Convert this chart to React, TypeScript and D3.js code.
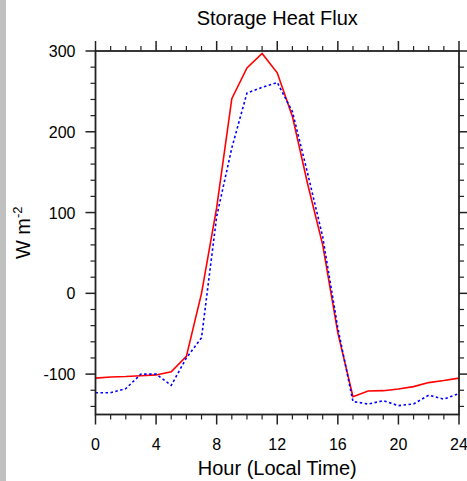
import React from "react";
import * as d3 from "d3";

const hours = d3.range(0, 25);
const observed = [-105, -103.5, -103, -102, -101, -97, -78, 0, 106, 241, 279, 297, 273, 219, 136, 60, -49, -128, -121, -120.5, -118.5, -115.5, -110.5, -108, -105];
const modeled = [-123, -123, -118, -100, -100, -114, -80, -55, 95, 180, 248, 255, 261, 225, 149, 70, -43, -134, -137, -133, -139, -137, -126, -131, -124];
const xMajorTicks = [0, 4, 8, 12, 16, 20, 24];
const yMajorTicks = [-100, 0, 100, 200, 300];

const W = 467;
const H = 481;
const left = 95.5;
const right = 459;
const top = 51;
const bottom = 414.5;

export default function App() {
  const x = d3.scaleLinear().domain([0, 24]).range([left, right]);
  const y = d3.scaleLinear().domain([-150, 300]).range([bottom, top]);
  const line = d3
    .line<number>()
    .x((_, i) => x(hours[i]))
    .y((d) => y(d));
  const xMinor = d3.range(0, 25, 1).filter((v) => v % 4 !== 0);
  const yMinor = d3.range(-140, 301, 20).filter((v) => v % 100 !== 0);
  const font = "'Liberation Sans', Arial, Helvetica, sans-serif";
  const axisColor = "#222";

  return (
    <svg
      width={W}
      height={H}
      style={{ position: "absolute", left: 0, top: 0, background: "#fff" }}
      fontFamily={font}
    >
      <rect x={0} y={0} width={W} height={H} fill="#fff" />
      <rect x={0} y={0} width={6} height={H} fill="#c0c0c0" />

      {/* data lines */}
      <path d={line(observed) || ""} fill="none" stroke="#ff0000" strokeWidth={1.6} />
      <path
        d={line(modeled) || ""}
        fill="none"
        stroke="#0000ff"
        strokeWidth={1.6}
        strokeDasharray="2.5,2.5"
      />

      {/* frame */}
      <rect
        x={left}
        y={top}
        width={right - left}
        height={bottom - top}
        fill="none"
        stroke={axisColor}
        strokeWidth={1.8}
      />

      {/* x ticks */}
      {xMajorTicks.map((t) => (
        <g key={"xm" + t}>
          <line x1={x(t)} x2={x(t)} y1={bottom} y2={bottom + 10} stroke={axisColor} strokeWidth={1.5} />
          <line x1={x(t)} x2={x(t)} y1={top} y2={top - 10} stroke={axisColor} strokeWidth={1.5} />
          <text x={x(t)} y={bottom + 35} textAnchor="middle" fontSize={16} fill="#000">
            {t}
          </text>
        </g>
      ))}
      {xMinor.map((t) => (
        <g key={"xn" + t}>
          <line x1={x(t)} x2={x(t)} y1={bottom} y2={bottom + 5} stroke={axisColor} strokeWidth={1.2} />
          <line x1={x(t)} x2={x(t)} y1={top} y2={top - 5} stroke={axisColor} strokeWidth={1.2} />
        </g>
      ))}

      {/* y ticks */}
      {yMajorTicks.map((t) => (
        <g key={"ym" + t}>
          <line x1={left} x2={left - 10} y1={y(t)} y2={y(t)} stroke={axisColor} strokeWidth={1.5} />
          <line x1={right} x2={right + 8} y1={y(t)} y2={y(t)} stroke={axisColor} strokeWidth={1.5} />
          <text x={left - 20} y={y(t) + 6} textAnchor="end" fontSize={16} fill="#000">
            {t}
          </text>
        </g>
      ))}
      {yMinor.map((t) => (
        <g key={"yn" + t}>
          <line x1={left} x2={left - 5} y1={y(t)} y2={y(t)} stroke={axisColor} strokeWidth={1.2} />
          <line x1={right} x2={right + 5} y1={y(t)} y2={y(t)} stroke={axisColor} strokeWidth={1.2} />
        </g>
      ))}

      {/* titles */}
      <text x={(left + right) / 2} y={25} textAnchor="middle" fontSize={20} fill="#000">
        Storage Heat Flux
      </text>
      <text x={(left + right) / 2} y={475} textAnchor="middle" fontSize={20} fill="#000">
        Hour (Local Time)
      </text>
      <text
        transform={`translate(30, ${(top + bottom) / 2}) rotate(-90)`}
        textAnchor="middle"
        fontSize={20}
        fill="#000"
      >
        W m
        <tspan fontSize={13} dy={-8}>
          -2
        </tspan>
      </text>
    </svg>
  );
}
